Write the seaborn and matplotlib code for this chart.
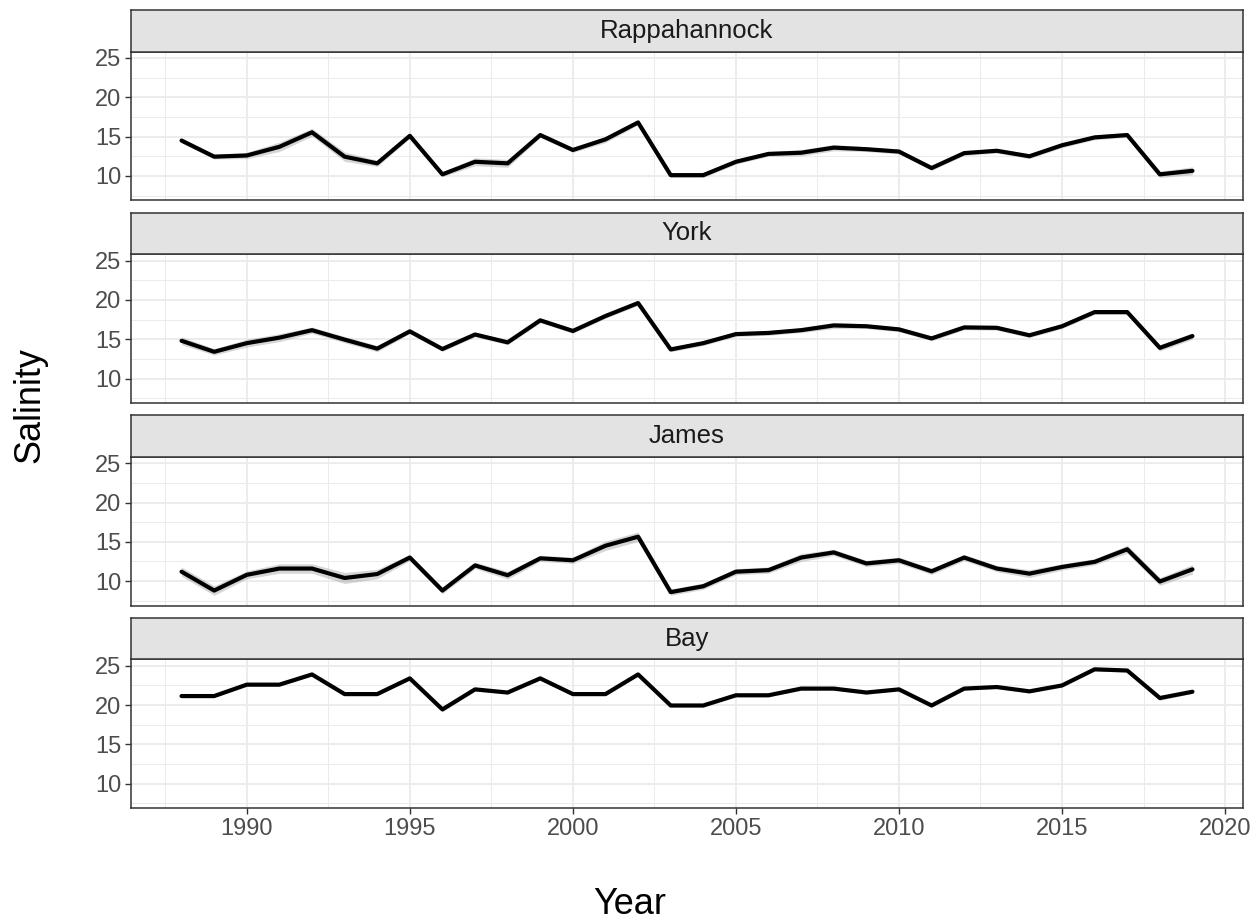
import numpy as np
import pandas as pd
import matplotlib
matplotlib.use("Agg")
import matplotlib.pyplot as plt
import seaborn as sns

# Annual mean salinity by river, 1988-2019
years = list(range(1988, 2020))
rivers = ["Rappahannock", "York", "James", "Bay"]

rappahannock = [14.5, 12.45, 12.6, 13.7, 15.55, 12.45, 11.6, 15.1, 10.2, 11.8, 11.6, 15.2,
                13.3, 14.65, 16.8, 10.1, 10.1, 11.8, 12.8, 12.95, 13.6, 13.4, 13.1, 11.0,
                12.9, 13.2, 12.5, 13.9, 14.9, 15.2, 10.2, 10.65]
york = [14.8, 13.4, 14.5, 15.2, 16.15, 14.95, 13.8, 16.0, 13.75, 15.6, 14.6, 17.4,
        16.05, 17.95, 19.6, 13.7, 14.5, 15.65, 15.8, 16.15, 16.75, 16.65, 16.25, 15.1,
        16.5, 16.45, 15.5, 16.65, 18.45, 18.45, 13.9, 15.4]
james = [11.2, 8.8, 10.8, 11.6, 11.6, 10.4, 10.9, 13.0, 8.8, 12.0, 10.75, 12.9,
         12.65, 14.5, 15.65, 8.6, 9.35, 11.2, 11.4, 13.0, 13.65, 12.25, 12.65, 11.25,
         13.0, 11.6, 10.95, 11.8, 12.45, 14.05, 9.95, 11.5]
bay = [21.15, 21.15, 22.6, 22.6, 23.9, 21.4, 21.4, 23.4, 19.45, 22.0, 21.6, 23.4,
       21.4, 21.4, 23.9, 19.95, 19.95, 21.25, 21.25, 22.1, 22.1, 21.6, 22.0, 19.95,
       22.1, 22.3, 21.75, 22.5, 24.55, 24.4, 20.9, 21.7]

# Half-width of the confidence band around each annual mean
rappahannock_ci = [0.3, 0.3, 0.4, 0.6, 0.5, 0.6, 0.4, 0.3, 0.3, 0.5, 0.5, 0.3,
                   0.3, 0.4, 0.3, 0.3, 0.3, 0.3, 0.3, 0.4, 0.4, 0.3, 0.3, 0.3,
                   0.3, 0.3, 0.3, 0.3, 0.3, 0.3, 0.4, 0.5]
york_ci = [0.5, 0.4, 0.5, 0.5, 0.4, 0.4, 0.4, 0.3, 0.3, 0.3, 0.3, 0.3,
           0.3, 0.3, 0.3, 0.3, 0.3, 0.3, 0.3, 0.3, 0.4, 0.3, 0.3, 0.3,
           0.3, 0.3, 0.3, 0.3, 0.3, 0.3, 0.4, 0.4]
james_ci = [0.6, 0.6, 0.5, 0.6, 0.6, 0.7, 0.6, 0.4, 0.4, 0.4, 0.5, 0.4,
            0.4, 0.6, 0.6, 0.4, 0.4, 0.4, 0.4, 0.5, 0.4, 0.4, 0.4, 0.4,
            0.4, 0.4, 0.5, 0.4, 0.4, 0.5, 0.5, 0.6]
bay_ci = [0.2, 0.2, 0.2, 0.2, 0.2, 0.2, 0.2, 0.2, 0.3, 0.2, 0.2, 0.2,
          0.2, 0.2, 0.2, 0.2, 0.2, 0.2, 0.2, 0.2, 0.2, 0.2, 0.2, 0.2,
          0.2, 0.2, 0.2, 0.2, 0.2, 0.2, 0.3, 0.2]

x_ticks = [1990, 1995, 2000, 2005, 2010, 2015, 2020]
y_ticks = [10, 15, 20, 25]

frames = []
for name, vals, ci in [("Rappahannock", rappahannock, rappahannock_ci),
                       ("York", york, york_ci),
                       ("James", james, james_ci),
                       ("Bay", bay, bay_ci)]:
    frames.append(pd.DataFrame({"Year": years, "Salinity": vals, "ci": ci, "River": name}))
df = pd.concat(frames, ignore_index=True)

sns.set_theme(style="white")
plt.rcParams["font.family"] = ["Liberation Sans", "DejaVu Sans"]

W, H = 1260, 924
fig = plt.figure(figsize=(W / 100, H / 100), dpi=100)

left_px, right_px = 131, 1243
panel_h, strip_h, pitch = 148.6, 41.7, 202.6
first_bottom = 200.3

grid_col = "#EBEBEB"
frame_col = "#333333"

for i, river in enumerate(rivers):
    bottom_px = first_bottom + i * pitch
    top_px = bottom_px - panel_h
    ax = fig.add_axes([left_px / W, 1 - bottom_px / H,
                       (right_px - left_px) / W, panel_h / H])
    sub = df[df["River"] == river]
    ax.fill_between(sub["Year"], sub["Salinity"] - sub["ci"], sub["Salinity"] + sub["ci"],
                    color="#999999", alpha=0.4, linewidth=0, zorder=2)
    sns.lineplot(data=sub, x="Year", y="Salinity", ax=ax, color="black",
                 linewidth=3.0, errorbar=None, zorder=3)
    ax.set_xlim(1986.45, 2020.55)
    ax.set_ylim(6.9, 25.8)
    ax.set_xticks(x_ticks)
    ax.set_xticks([1987.5 + 5 * k for k in range(7)], minor=True)
    ax.set_yticks(y_ticks)
    ax.set_yticks([7.5, 12.5, 17.5, 22.5], minor=True)
    ax.grid(which="major", color=grid_col, linewidth=1.3, zorder=0)
    ax.grid(which="minor", color=grid_col, linewidth=0.7, zorder=0)
    ax.set_axisbelow(True)
    ax.set_xlabel("")
    ax.set_ylabel("")
    for s in ax.spines.values():
        s.set_color(frame_col)
        s.set_linewidth(1.1)
    ax.tick_params(axis="y", which="major", length=4, width=1.0, color=frame_col,
                   labelsize=17, labelcolor="#4D4D4D", pad=3, left=True)
    ax.tick_params(which="minor", length=0)
    if i == len(rivers) - 1:
        ax.tick_params(axis="x", which="major", length=4, width=1.0, color=frame_col,
                       labelsize=17, labelcolor="#4D4D4D", pad=3, bottom=True)
    else:
        ax.tick_params(axis="x", which="major", length=0, labelbottom=False)

    # facet strip
    sax = fig.add_axes([left_px / W, 1 - top_px / H,
                        (right_px - left_px) / W, strip_h / H])
    sax.set_facecolor("#E3E3E3")
    sax.set_xticks([])
    sax.set_yticks([])
    for s in sax.spines.values():
        s.set_color(frame_col)
        s.set_linewidth(1.1)
    sax.text(0.5, 0.5, river, ha="center", va="center", fontsize=18.5,
             color="#1A1A1A", transform=sax.transAxes)

fig.text(630 / W, 1 - 905 / H, "Year", ha="center", va="center",
         fontsize=26, color="black")
fig.text(30 / W, 1 - 405 / H, "Salinity", ha="center", va="center", rotation=90,
         fontsize=26, color="black")

fig.savefig("out.png", dpi=100)
